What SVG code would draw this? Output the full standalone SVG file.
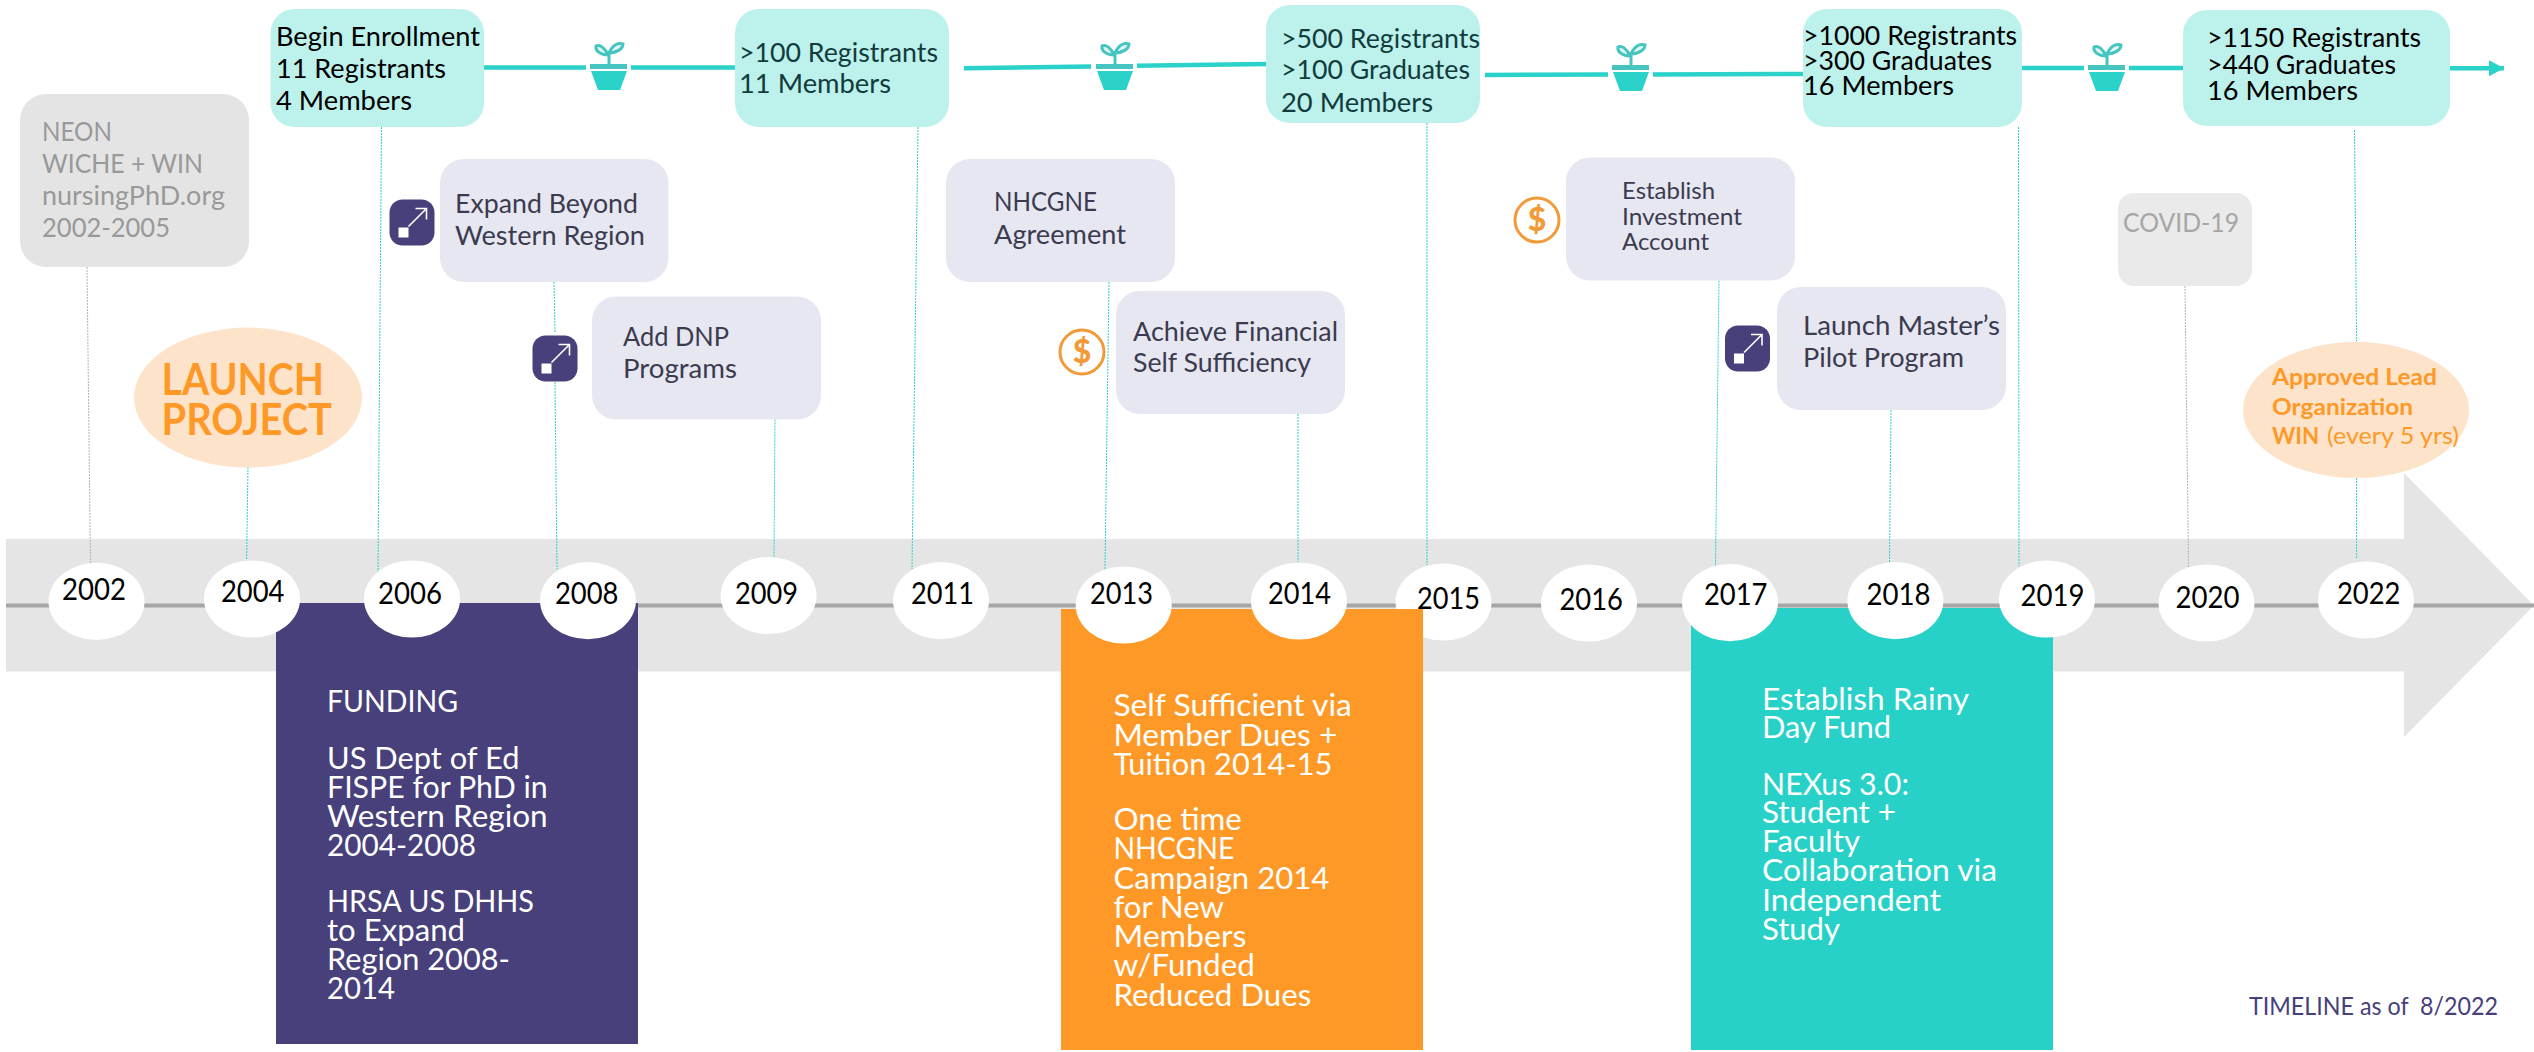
<svg xmlns="http://www.w3.org/2000/svg" width="2534" height="1052" viewBox="0 0 2534 1052">
<style>
text{font-family:Lato,"Open Sans","Liberation Sans",sans-serif;white-space:pre}
.y{font-size:31px;fill:#000}
.b{font-size:26.5px}
.k{fill:#000}.d{fill:#123c3c}.l{fill:#3b3b50}.g{fill:#999}
.w{font-size:31px;fill:#fff}
.o{fill:#fe9928;font-weight:700}
.teal{fill:#bcf1ec}.lav{fill:#e7e7f1}.gr{fill:#e4e4e4}
.halo{fill:#fde3c9}
.dt{stroke:#2ad2c9;stroke-width:1;stroke-dasharray:2 1;fill:none}
.dg{stroke:#b5b5b5;stroke-width:1;stroke-dasharray:2 1;fill:none}
.tl{stroke:#2ad2c9;stroke-width:4.5;fill:none}
.circ{fill:#fff}
.dol{fill:#f29a38;font-size:32px;font-weight:900;text-anchor:middle}
</style>
<defs>
<marker id="ah" markerUnits="userSpaceOnUse" markerWidth="16" markerHeight="16" refX="15" refY="8" orient="auto"><path d="M0 0L15 8L0 16Z" fill="#2ad2c9"/></marker>
<g id="pot">
<rect x="-22" y="0" width="45" height="53" fill="#fff"/>
<rect x="-18" y="26" width="37" height="5" fill="#45c4c0"/>
<path d="M-17 33H19L12 52H-10Z" fill="#2ad2c9"/>
<path d="M1 26V13" stroke="#45c4c0" stroke-width="3" fill="none"/>
<path d="M0 17C-3 10-8 6-12 8C-13 13-7 17 0 17ZM1 15C4 8 9 4 15 6C15 11 8 15 1 15Z" fill="#dff5f4" stroke="#45c4c0" stroke-width="3"/>
</g>
<g id="exp">
<rect width="45" height="46" rx="13" fill="#47407a"/>
<rect x="9" y="28" width="10" height="10" fill="#fff"/>
<path d="M19 27L36 10M26 9H37V20" stroke="#fff" stroke-width="1.6" fill="none"/>
</g>
<g id="dollar"><circle r="22" fill="#fff" stroke="#f29a38" stroke-width="3"/></g>
</defs>

<g id="band">
<path d="M6 539H2404V473L2534 605.500L2404 737V671.500H6Z" fill="#e5e5e5"/>
<rect x="6" y="603.500" width="2528" height="4" fill="#a6a6a6"/>
</g>

<g id="connectors">
<path class="tl" d="M484 67.600H586M631 67.600H735"/>
<path class="tl" d="M964 68.300L1091 66.500M1136 65.700L1266 64"/>
<path class="tl" d="M1485 75L1608 74.500M1653 74.500L1803 74"/>
<path class="tl" d="M2015 68H2084M2127 68H2183"/>
<path class="tl" d="M2450 68.300H2504" marker-end="url(#ah)"/>
<path class="dg" d="M87 267L90.500 565"/>
<path class="dt" d="M248 467L246.600 560"/>
<path class="dt" d="M381.500 127L378 572"/>
<path class="dt" d="M554 282L555 333M555 382L557 569"/>
<path class="dt" d="M775 419.500L774 557"/>
<path class="dt" d="M918 127L912 569"/>
<path class="dt" d="M1109 282L1105 569"/>
<path class="dt" d="M1298 414L1298 562.500"/>
<path class="dt" d="M1427 123L1427 565"/>
<path class="dt" d="M1719 280.500L1715.500 566"/>
<path class="dt" d="M1891 410L1889.500 562"/>
<path class="dt" d="M2018.500 127L2019 566"/>
<path class="dg" d="M2185 286L2188.600 567.600"/>
<path class="dt" d="M2354.500 130L2356.600 341.500M2356.600 478L2356.600 559"/>
</g>

<g id="y2015"><ellipse class="circ" cx="1443.500" cy="602" rx="48" ry="38.600"/><text class="y" x="1417" y="609" textLength="63" lengthAdjust="spacingAndGlyphs">2015</text></g>

<g id="funding">
<rect x="276" y="603" width="362" height="441" fill="#47407a"/>
<text class="w" x="327" y="712" textLength="131" lengthAdjust="spacingAndGlyphs">FUNDING</text>
<text class="w" x="327" y="769" textLength="192.400" lengthAdjust="spacingAndGlyphs">US Dept of Ed</text>
<text class="w" x="327" y="797.500" textLength="220.600" lengthAdjust="spacingAndGlyphs">FISPE for PhD in</text>
<text class="w" x="327" y="827" textLength="220.600" lengthAdjust="spacingAndGlyphs">Western Region</text>
<text class="w" x="327" y="856" textLength="149" lengthAdjust="spacingAndGlyphs">2004-2008</text>
<text class="w" x="327" y="911.500" textLength="207" lengthAdjust="spacingAndGlyphs">HRSA US DHHS</text>
<text class="w" x="327" y="940.500" textLength="138" lengthAdjust="spacingAndGlyphs">to Expand</text>
<text class="w" x="327" y="970" textLength="183" lengthAdjust="spacingAndGlyphs">Region 2008-</text>
<text class="w" x="327" y="998.700" textLength="68" lengthAdjust="spacingAndGlyphs">2014</text>
</g>

<g id="self-sufficient">
<rect x="1061" y="609" width="362" height="441" fill="#fe9928"/>
<text class="w" x="1113.400" y="716.400" textLength="238.500" lengthAdjust="spacingAndGlyphs">Self Sufficient via</text>
<text class="w" x="1113.400" y="745.500" textLength="224" lengthAdjust="spacingAndGlyphs">Member Dues +</text>
<text class="w" x="1113.400" y="774.500" textLength="219" lengthAdjust="spacingAndGlyphs">Tuition 2014-15</text>
<text class="w" x="1113.400" y="830" textLength="128.500" lengthAdjust="spacingAndGlyphs">One time</text>
<text class="w" x="1113.400" y="859" textLength="121" lengthAdjust="spacingAndGlyphs">NHCGNE</text>
<text class="w" x="1113.400" y="888.500" textLength="216" lengthAdjust="spacingAndGlyphs">Campaign 2014</text>
<text class="w" x="1113.400" y="917.500" textLength="110.600" lengthAdjust="spacingAndGlyphs">for New</text>
<text class="w" x="1113.400" y="947" textLength="133" lengthAdjust="spacingAndGlyphs">Members</text>
<text class="w" x="1113.400" y="976" textLength="141.500" lengthAdjust="spacingAndGlyphs">w/Funded</text>
<text class="w" x="1113.400" y="1006" textLength="198" lengthAdjust="spacingAndGlyphs">Reduced Dues</text>
</g>

<g id="rainy-day">
<rect x="1691" y="608" width="362" height="442" fill="#28d1c7"/>
<text class="w" x="1762" y="709.600" textLength="207" lengthAdjust="spacingAndGlyphs">Establish Rainy</text>
<text class="w" x="1762" y="738.400" textLength="129" lengthAdjust="spacingAndGlyphs">Day Fund</text>
<text class="w" x="1762" y="794.500" textLength="147" lengthAdjust="spacingAndGlyphs">NEXus 3.0:</text>
<text class="w" x="1762" y="823" textLength="134" lengthAdjust="spacingAndGlyphs">Student +</text>
<text class="w" x="1762" y="852" textLength="98" lengthAdjust="spacingAndGlyphs">Faculty</text>
<text class="w" x="1762" y="881.400" textLength="235" lengthAdjust="spacingAndGlyphs">Collaboration via</text>
<text class="w" x="1762" y="911" textLength="179" lengthAdjust="spacingAndGlyphs">Independent</text>
<text class="w" x="1762" y="939.500" textLength="78" lengthAdjust="spacingAndGlyphs">Study</text>
</g>

<g id="y2002"><ellipse class="circ" cx="96.500" cy="601.400" rx="48" ry="38.600"/><text class="y" x="62" y="600.400" textLength="64" lengthAdjust="spacingAndGlyphs">2002</text></g>
<g id="y2004"><ellipse class="circ" cx="252" cy="599" rx="48" ry="38.600"/><text class="y" x="221" y="602" textLength="63.500" lengthAdjust="spacingAndGlyphs">2004</text></g>
<g id="y2006"><ellipse class="circ" cx="412" cy="599" rx="48" ry="38.600"/><text class="y" x="378" y="603.500" textLength="64" lengthAdjust="spacingAndGlyphs">2006</text></g>
<g id="y2008"><ellipse class="circ" cx="588" cy="600.600" rx="48" ry="38.600"/><text class="y" x="555" y="603.500" textLength="63.500" lengthAdjust="spacingAndGlyphs">2008</text></g>
<g id="y2009"><ellipse class="circ" cx="768.600" cy="595.500" rx="48" ry="38.600"/><text class="y" x="735" y="603.500" textLength="63" lengthAdjust="spacingAndGlyphs">2009</text></g>
<g id="y2011"><ellipse class="circ" cx="941" cy="600.600" rx="48" ry="38.600"/><text class="y" x="911" y="603.500" textLength="63" lengthAdjust="spacingAndGlyphs">2011</text></g>
<g id="y2013"><ellipse class="circ" cx="1123.700" cy="605" rx="48" ry="38.600"/><text class="y" x="1090" y="603.500" textLength="63" lengthAdjust="spacingAndGlyphs">2013</text></g>
<g id="y2014"><ellipse class="circ" cx="1299" cy="601" rx="48" ry="38.600"/><text class="y" x="1268" y="603.500" textLength="63" lengthAdjust="spacingAndGlyphs">2014</text></g>
<g id="y2016"><ellipse class="circ" cx="1589" cy="603" rx="48" ry="38.600"/><text class="y" x="1559.500" y="609.500" textLength="63.500" lengthAdjust="spacingAndGlyphs">2016</text></g>
<g id="y2017"><ellipse class="circ" cx="1730" cy="602.600" rx="48" ry="38.600"/><text class="y" x="1704" y="605" textLength="63.500" lengthAdjust="spacingAndGlyphs">2017</text></g>
<g id="y2018"><ellipse class="circ" cx="1895.400" cy="600.600" rx="48" ry="38.600"/><text class="y" x="1866.600" y="605" textLength="64" lengthAdjust="spacingAndGlyphs">2018</text></g>
<g id="y2019"><ellipse class="circ" cx="2047" cy="599" rx="48" ry="38.600"/><text class="y" x="2020.600" y="605.500" textLength="64" lengthAdjust="spacingAndGlyphs">2019</text></g>
<g id="y2020"><ellipse class="circ" cx="2206.500" cy="603" rx="48" ry="38.600"/><text class="y" x="2175.600" y="607.500" textLength="64" lengthAdjust="spacingAndGlyphs">2020</text></g>
<g id="y2022"><ellipse class="circ" cx="2366" cy="600" rx="48" ry="38.600"/><text class="y" x="2337" y="604" textLength="63.500" lengthAdjust="spacingAndGlyphs">2022</text></g>

<g id="pots">
<use href="#pot" x="608" y="38"/>
<use href="#pot" x="1114" y="38"/>
<use href="#pot" x="1630" y="39"/>
<use href="#pot" x="2106" y="39"/>
</g>

<g id="neon">
<rect class="gr" x="20" y="94" width="229" height="173" rx="26"/>
<text class="b g" x="42" y="141" textLength="70" lengthAdjust="spacingAndGlyphs">NEON</text>
<text class="b g" x="42" y="173" textLength="161" lengthAdjust="spacingAndGlyphs">WICHE + WIN</text>
<text class="b g" x="42" y="205" textLength="183" lengthAdjust="spacingAndGlyphs">nursingPhD.org</text>
<text class="b g" x="42" y="237" textLength="128" lengthAdjust="spacingAndGlyphs">2002-2005</text>
</g>

<g id="launch">
<ellipse class="halo" cx="248" cy="397.600" rx="114" ry="70"/>
<text class="o" style="font-size:43px" x="161.500" y="394.500" textLength="162.500" lengthAdjust="spacingAndGlyphs">LAUNCH</text>
<text class="o" style="font-size:43px" x="161.500" y="434.500" textLength="170.500" lengthAdjust="spacingAndGlyphs">PROJECT</text>
</g>

<g id="begin">
<rect class="teal" x="270.500" y="9" width="213.500" height="118" rx="24"/>
<text class="b k" x="276" y="46" textLength="204" lengthAdjust="spacingAndGlyphs">Begin Enrollment</text>
<text class="b k" x="276" y="78" textLength="170" lengthAdjust="spacingAndGlyphs">11 Registrants</text>
<text class="b k" x="276" y="110" textLength="136" lengthAdjust="spacingAndGlyphs">4 Members</text>
</g>
<g id="m2009">
<rect class="teal" x="735" y="9" width="214" height="118" rx="24"/>
<text class="b d" x="739" y="62" textLength="199" lengthAdjust="spacingAndGlyphs">&gt;100 Registrants</text>
<text class="b d" x="739" y="93" textLength="152" lengthAdjust="spacingAndGlyphs">11 Members</text>
</g>
<g id="m2015">
<rect class="teal" x="1266" y="5" width="214" height="118" rx="24"/>
<text class="b d" x="1281" y="48" textLength="199" lengthAdjust="spacingAndGlyphs">&gt;500 Registrants</text>
<text class="b d" x="1281" y="79" textLength="189" lengthAdjust="spacingAndGlyphs">&gt;100 Graduates</text>
<text class="b d" x="1281" y="112" textLength="152" lengthAdjust="spacingAndGlyphs">20 Members</text>
</g>
<g id="m2019">
<rect class="teal" x="1803" y="9" width="219" height="118" rx="24"/>
<text class="b k" x="1803" y="45" textLength="214" lengthAdjust="spacingAndGlyphs">&gt;1000 Registrants</text>
<text class="b k" x="1803" y="70" textLength="189" lengthAdjust="spacingAndGlyphs">&gt;300 Graduates</text>
<text class="b k" x="1803" y="95" textLength="151" lengthAdjust="spacingAndGlyphs">16 Members</text>
</g>
<g id="m2022">
<rect class="teal" x="2183" y="10" width="267" height="116" rx="24"/>
<text class="b k" x="2207" y="47" textLength="214" lengthAdjust="spacingAndGlyphs">&gt;1150 Registrants</text>
<text class="b k" x="2207" y="74" textLength="189" lengthAdjust="spacingAndGlyphs">&gt;440 Graduates</text>
<text class="b k" x="2207" y="100" textLength="151" lengthAdjust="spacingAndGlyphs">16 Members</text>
</g>

<g id="expand">
<rect class="lav" x="440" y="159" width="228.500" height="123" rx="24"/>
<text class="b l" x="455" y="213" textLength="183" lengthAdjust="spacingAndGlyphs">Expand Beyond</text>
<text class="b l" x="455" y="245" textLength="190" lengthAdjust="spacingAndGlyphs">Western Region</text>
<use href="#exp" x="389.500" y="199.500"/>
</g>
<g id="dnp">
<rect class="lav" x="592" y="296.500" width="229" height="123" rx="24"/>
<text class="b l" x="623" y="346" textLength="106" lengthAdjust="spacingAndGlyphs">Add DNP</text>
<text class="b l" x="623" y="378" textLength="114" lengthAdjust="spacingAndGlyphs">Programs</text>
<use href="#exp" x="532.500" y="335.500"/>
</g>
<g id="nhcgne">
<rect class="lav" x="946" y="159" width="229" height="123" rx="24"/>
<text class="b l" x="994" y="211" textLength="103" lengthAdjust="spacingAndGlyphs">NHCGNE</text>
<text class="b l" x="994" y="244" textLength="132" lengthAdjust="spacingAndGlyphs">Agreement</text>
</g>
<g id="achieve">
<rect class="lav" x="1116" y="291" width="229" height="123" rx="24"/>
<text class="b l" x="1133" y="341" textLength="205" lengthAdjust="spacingAndGlyphs">Achieve Financial</text>
<text class="b l" x="1133" y="372" textLength="178" lengthAdjust="spacingAndGlyphs">Self Sufficiency</text>
<use href="#dollar" x="1082" y="352"/>
<text class="dol" x="1082" y="363">$</text>
</g>
<g id="invest">
<rect class="lav" x="1566" y="157.500" width="229" height="123" rx="24"/>
<text class="l" style="font-size:23px" x="1622" y="199" textLength="93" lengthAdjust="spacingAndGlyphs">Establish</text>
<text class="l" style="font-size:23px" x="1622" y="224.500" textLength="120" lengthAdjust="spacingAndGlyphs">Investment</text>
<text class="l" style="font-size:23px" x="1622" y="250" textLength="87" lengthAdjust="spacingAndGlyphs">Account</text>
<use href="#dollar" x="1537" y="220"/>
<text class="dol" x="1537" y="231">$</text>
</g>
<g id="masters">
<rect class="lav" x="1777" y="287" width="229" height="123" rx="24"/>
<text class="b l" x="1803" y="335" textLength="197" lengthAdjust="spacingAndGlyphs">Launch Master’s</text>
<text class="b l" x="1803" y="367" textLength="161" lengthAdjust="spacingAndGlyphs">Pilot Program</text>
<use href="#exp" x="1725" y="325.500"/>
</g>
<g id="covid">
<rect x="2118" y="193" width="134" height="93" rx="16" fill="#eaeaea"/>
<text class="b" style="fill:#a6a6a6" x="2123" y="232" textLength="116" lengthAdjust="spacingAndGlyphs">COVID-19</text>
</g>
<g id="approved">
<ellipse class="halo" cx="2356" cy="410" rx="113" ry="68"/>
<text class="o" style="font-size:23.500px" x="2272" y="385" textLength="165" lengthAdjust="spacingAndGlyphs">Approved Lead</text>
<text class="o" style="font-size:23.500px" x="2272" y="414.500" textLength="141" lengthAdjust="spacingAndGlyphs">Organization</text>
<text class="o" style="font-size:23.500px" x="2272" y="443.500" textLength="47" lengthAdjust="spacingAndGlyphs">WIN</text>
<text style="font-size:23.500px;fill:#fe9928" x="2327" y="443.500" textLength="132" lengthAdjust="spacingAndGlyphs">(every 5 yrs)</text>
</g>
<text id="asof" style="font-size:25.500px;fill:#47407a" x="2249" y="1015" textLength="249" lengthAdjust="spacingAndGlyphs">TIMELINE as of  8/2022</text>
</svg>
